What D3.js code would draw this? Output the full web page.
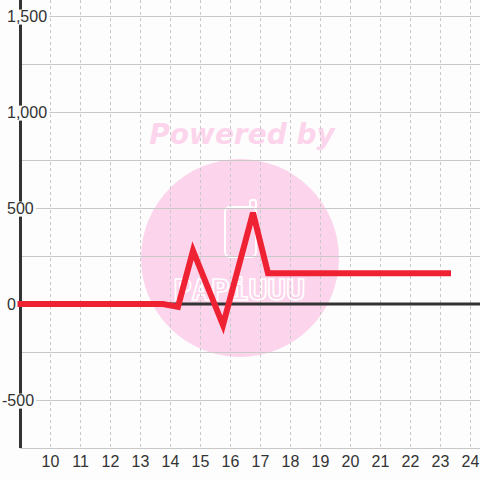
<!DOCTYPE html>
<html>
<head>
<meta charset="utf-8">
<script src="https://cdn.jsdelivr.net/npm/d3@7"></script>
<style>
  html, body { margin: 0; padding: 0; background: #fcfdfc; }
  svg { display: block; }
</style>
</head>
<body>
<div id="chart"></div>
<script>
// data
const hours  = [9, 13.75, 14.25, 14.75, 15.75, 16.75, 17.25, 23.25];
const values = [0, 0, -15, 278, -110, 475, 160, 160];
const xTicks = [10, 11, 12, 13, 14, 15, 16, 17, 18, 19, 20, 21, 22, 23, 24];
const yTicks = [-500, 0, 500, 1000, 1500];
const yGrid  = [-750, -500, -250, 0, 250, 500, 750, 1000, 1250, 1500];

const width = 480, height = 480;
const svg = d3.select("#chart").append("svg")
    .attr("width", width).attr("height", height);

svg.append("rect").attr("width", width).attr("height", height).attr("fill", "#fcfdfc");

const x = d3.scaleLinear().domain([9, 24.317]).range([20.5, 480]);
const y = d3.scaleLinear().domain([-750, 1583.3]).range([448, 0]);

const fmt = d3.formatLocale({decimal: ".", thousands: ",", grouping: [3], currency: ["$", ""], minus: "-"}).format(",");
const labelFont = "'Liberation Sans', Arial, sans-serif";

// watermark
const wm = svg.append("g");
wm.append("circle").attr("cx", 240).attr("cy", 258).attr("r", 99).attr("fill", "#fcd5ec");
wm.append("text")
    .attr("x", 242).attr("y", 144)
    .attr("text-anchor", "middle")
    .attr("font-family", "DejaVu Sans")
    .attr("font-weight", "bold")
    .attr("font-style", "italic")
    .attr("font-size", 28)
    .attr("fill", "#fcd5ec")
    .text("Powered by");
wm.append("rect").attr("x", 225).attr("y", 207).attr("width", 31).attr("height", 50).attr("rx", 5)
    .attr("fill", "none").attr("stroke", "#fff").attr("stroke-width", 2);
wm.append("rect").attr("x", 250).attr("y", 200).attr("width", 6).attr("height", 8).attr("rx", 2)
    .attr("fill", "none").attr("stroke", "#fff").attr("stroke-width", 2);
wm.append("text")
    .attr("x", 239).attr("y", 300)
    .attr("text-anchor", "middle")
    .attr("font-family", "DejaVu Sans Mono")
    .attr("font-weight", "bold")
    .attr("font-size", 28)
    .attr("fill", "none").attr("stroke", "#fff").attr("stroke-width", 1.5)
    .attr("textLength", 132)
    .attr("lengthAdjust", "spacingAndGlyphs")
    .text("PAPiUUU");

// grid
svg.append("g").selectAll("line").data(yGrid).join("line")
    .attr("x1", 20).attr("x2", 480)
    .attr("y1", d => Math.round(y(d)) + 0.5).attr("y2", d => Math.round(y(d)) + 0.5)
    .attr("stroke", "#c8c8c8").attr("stroke-width", 1);

svg.append("g").selectAll("line").data(xTicks).join("line")
    .attr("x1", d => Math.round(x(d)) + 0.5).attr("x2", d => Math.round(x(d)) + 0.5)
    .attr("y1", 0).attr("y2", 448)
    .attr("stroke", "#c8c8c8").attr("stroke-width", 1)
    .attr("stroke-dasharray", "3,3");

// zero line and y axis line
svg.append("line")
    .attr("x1", 20).attr("x2", 480).attr("y1", y(0)).attr("y2", y(0))
    .attr("stroke", "#333").attr("stroke-width", 3);
svg.append("line")
    .attr("x1", x(9)).attr("x2", x(9)).attr("y1", 0).attr("y2", 448)
    .attr("stroke", "#333").attr("stroke-width", 3);

// y labels with boxes over the axis line
const yl = svg.append("g").selectAll("g").data(yTicks).join("g");
yl.append("text")
    .attr("x", d => d < 0 ? 2 : 7)
    .attr("y", d => y(d))
    .attr("dy", "0.35em")
    .attr("font-family", labelFont)
    .attr("font-size", 16)
    .attr("fill", "#333")
    .text(d => fmt(d));
yl.each(function() {
  const b = d3.select(this).select("text").node().getBBox();
  d3.select(this).insert("rect", "text")
      .attr("x", b.x - 1).attr("y", b.y + 2)
      .attr("width", b.width + 3).attr("height", b.height - 2)
      .attr("fill", "#fcfdfc");
});

// x labels
svg.append("g").selectAll("text").data(xTicks).join("text")
    .attr("x", d => x(d))
    .attr("y", 467)
    .attr("text-anchor", "middle")
    .attr("font-family", labelFont)
    .attr("font-size", 16)
    .attr("fill", "#333")
    .text(d => d);

// series
const line = d3.line().x((d, i) => x(hours[i])).y(d => y(d));
svg.append("path")
    .datum(values)
    .attr("d", line)
    .attr("fill", "none")
    .attr("stroke", "#ee2233")
    .attr("stroke-width", 6)
    .attr("stroke-linejoin", "miter")
    .attr("stroke-linecap", "square");
</script>
</body>
</html>
